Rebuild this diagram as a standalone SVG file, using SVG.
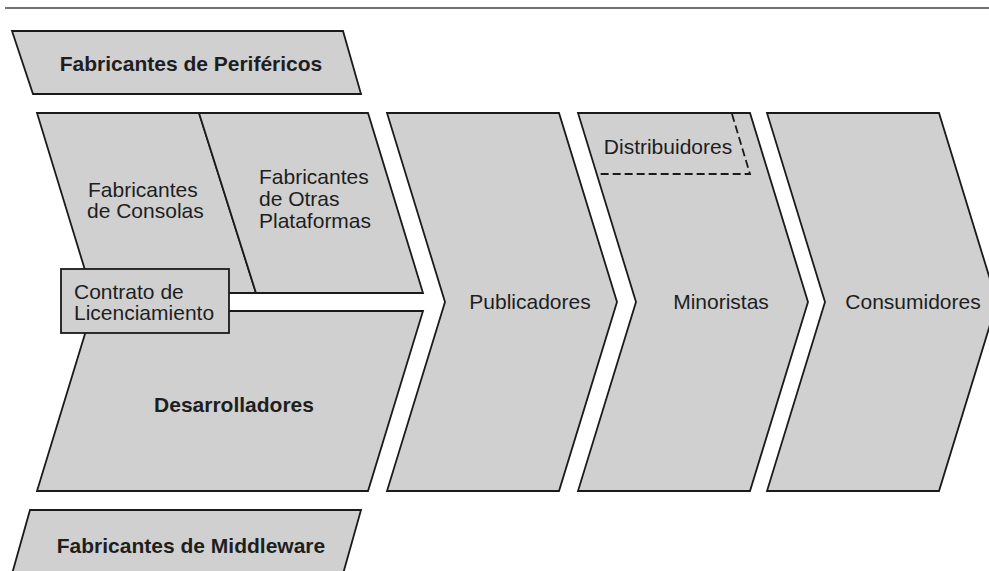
<svg xmlns="http://www.w3.org/2000/svg" width="989" height="571" viewBox="0 0 989 571">
<style>
.shape{fill:#d0d0d0;stroke:#1a1a1a;stroke-width:1.8;stroke-linejoin:miter}
.dash{fill:none;stroke:#1a1a1a;stroke-width:1.8;stroke-dasharray:8,4}
text{font-family:"Liberation Sans",Arial,sans-serif;font-size:21px;fill:#1e1e1e}
.b{font-weight:bold}
.c{text-anchor:middle}
</style>
<rect x="0" y="0" width="989" height="571" fill="#ffffff"/>
<line x1="5" y1="8" x2="989" y2="8" stroke="#444" stroke-width="1.5"/>

<g id="perifericos">
<polygon class="shape" points="12,31 343,31 361,94 33,94"/>
<text class="b c" x="191" y="71">Fabricantes de Periféricos</text>
</g>

<g id="consolas">
<polygon class="shape" points="37,113 199,113 256,293 92,293"/>
<text x="88" y="197">Fabricantes</text>
<text x="87" y="218">de Consolas</text>
</g>

<g id="otras-plataformas">
<polygon class="shape" points="199,113 368,113 423,293 256,293"/>
<text x="259" y="184">Fabricantes</text>
<text x="259" y="206">de Otras</text>
<text x="259" y="228">Plataformas</text>
</g>

<g id="desarrolladores">
<polygon class="shape" points="92,311 423,311 368,491 37,491"/>
<text class="b c" x="234" y="412">Desarrolladores</text>
</g>

<g id="contrato">
<rect class="shape" x="61" y="269" width="168" height="64"/>
<text x="74" y="299">Contrato de</text>
<text x="74" y="320">Licenciamiento</text>
</g>

<g id="publicadores">
<polygon class="shape" points="387,113 559,113 617,302 559,491 387,491 445,302"/>
<text class="c" x="530" y="309">Publicadores</text>
</g>

<g id="minoristas">
<polygon class="shape" points="578,113 750,113 808,302 750,491 578,491 636,302"/>
<text class="c" x="721" y="309">Minoristas</text>
</g>

<g id="distribuidores">
<polyline class="dash" points="732,114 750,174 597,174"/>
<text class="c" x="668" y="154">Distribuidores</text>
</g>

<g id="consumidores">
<polygon class="shape" points="767,113 939,113 997,302 939,491 767,491 825,302"/>
<text class="c" x="913" y="309">Consumidores</text>
</g>

<g id="middleware">
<polygon class="shape" points="30,510 361,510 343,574 12,574"/>
<text class="b c" x="191" y="553">Fabricantes de Middleware</text>
</g>

<g id="connectors"></g>
</svg>
